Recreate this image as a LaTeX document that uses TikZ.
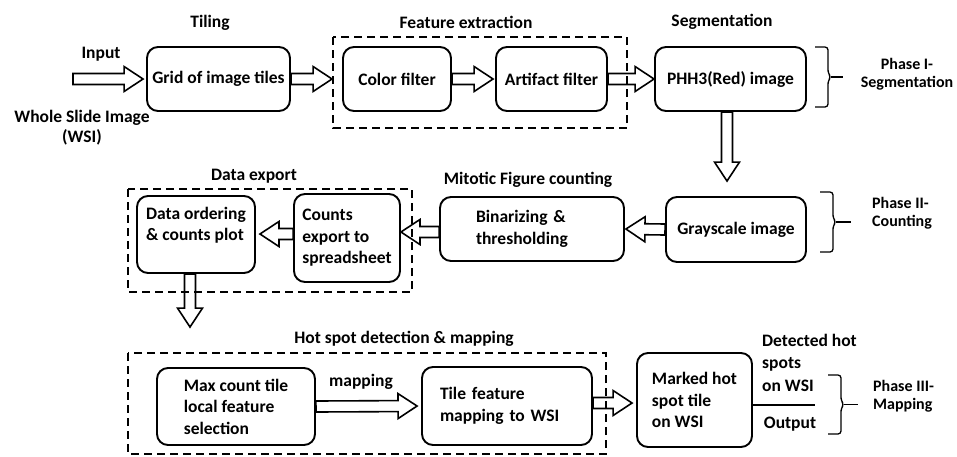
\documentclass[tikz,border=0pt]{standalone}
\usepackage{fontspec}
\setmainfont{Carlito}
\usetikzlibrary{calc}

% Hollow block arrow from #1 (tail) to #2 (tip)
\newcommand\fatarrow[2]{%
  \coordinate (faA) at (#1);
  \coordinate (faB) at (#2);
  \coordinate (faH) at ($(faB)!19pt!(faA)$);
  \draw[arrowline] ($(faA)!5.5pt!90:(faB)$) -- ($(faH)!5.5pt!90:(faB)$)
    -- ($(faH)!12.5pt!90:(faB)$) -- (faB) -- ($(faH)!12.5pt!-90:(faB)$)
    -- ($(faH)!5.5pt!-90:(faB)$) -- ($(faA)!5.5pt!-90:(faB)$) -- cycle;
}

% Right-hand curly bracket between two points, with a tick line
\newcommand\phasebrace[3]{%
  \coordinate (pbA) at (#1);
  \coordinate (pbB) at (#2);
  \coordinate (pbM) at ($(pbA)!0.5!(pbB)+(13,0)$);
  \draw[bracket] (pbA) -| ($(pbM)+(0,-4)$) -- ($(pbM)+(3,0)$) -- ($(pbM)+(0,4)$) |- (pbB);
  \draw[tick] ($(pbM)+(3,0)$) -- +(#3,0);
}

\begin{document}
\begin{tikzpicture}[x=1pt,y=-1pt,
  every node/.style={font=\fontsize{17.5}{21.5}\selectfont\bfseries, inner sep=2pt},
  box/.style={draw, line width=1.9pt, rounded corners=11pt, align=center},
  arrowline/.style={draw, fill=white, line width=1.6pt, line join=miter},
  frame/.style={draw, line width=1.6pt, dash pattern=on 8pt off 5pt},
  bracket/.style={draw, line width=1.3pt, rounded corners=3pt},
  tick/.style={draw, line width=1.3pt},
  phase/.style={font=\fontsize{16}{18}\selectfont\bfseries, align=center}]

\useasboundingbox (0,0) rectangle (957,456);

% ---- processing steps ----
\node[box, minimum width=143pt, minimum height=64pt] (grid) at (218.5,79) {Grid of image tiles};
\node[box, minimum width=108pt, minimum height=64pt] (color) at (397,79) {Color filter};
\node[box, minimum width=111pt, minimum height=64pt] (artifact) at (551.5,79) {Artifact filter};
\node[box, minimum width=151pt, minimum height=64pt] (phh) at (730.5,79) {PHH3(Red) image};

\node[box, minimum width=140pt, minimum height=65pt] (gray) at (736,229.5) {Grayscale image};
\node[box, minimum width=184pt, minimum height=64pt, text width=112pt, inner xsep=36pt, align=left] (bin) at (532,229) {Binarizing \&\\thresholding};
\node[box, minimum width=106pt, minimum height=88pt, align=left] (counts) at (347,238) {Counts\\export to\\spreadsheet};
\node[box, minimum width=118pt, minimum height=77pt, align=left] (data) at (196,234.5) {Data ordering\\\& counts plot\\\mbox{}};

\node[box, minimum width=158pt, minimum height=77pt, align=left] (max) at (236,406.5) {Max count tile\\local feature\\selection};
\node[box, minimum width=170pt, minimum height=78pt, text width=134pt, inner xsep=18pt, align=left] (tile) at (507,406) {Tile feature\\mapping to WSI};
\node[box, minimum width=115pt, minimum height=94pt, align=left] (marked) at (694.5,400) {Marked hot\\spot tile\\on WSI};

% ---- flow arrows ----
\coordinate (inStart) at (73,79);
\fatarrow{inStart}{[xshift=-3pt]grid.west}
\fatarrow{grid.east}{[xshift=-10pt]color.west}
\fatarrow{color.east}{[xshift=-2pt]artifact.west}
\fatarrow{artifact.east}{phh.west}
\fatarrow{$(phh.south)+(-3.5,0)$}{$(gray.north)+(-9,-15)$}
\fatarrow{gray.west}{$(bin.east)+(1,0)$}
\fatarrow{$(bin.west)+(0,3)$}{$(counts.east)+(0,-6)$}
\fatarrow{$(counts.west)+(0,-4)$}{$(data.east)+(4,-0.5)$}
\fatarrow{$(data.south)+(-6,0)$}{$(max.north)+(-46,-40)$}
\fatarrow{max.east}{$(tile.west)+(-4,0)$}
\fatarrow{$(tile.east)+(0,-3)$}{$(marked.west)+(-4,3)$}

% output line
\coordinate (outEnd) at (815,405);
\draw[line width=1.6pt] (marked.east |- outEnd) -- (outEnd);

% ---- stage frames ----
\draw[frame] (333,37) rectangle (627,128);
\draw[frame] (128,189) rectangle (412,292);
\draw[frame] (128,353) rectangle (606,454);

% ---- phase brackets ----
\phasebrace{815,47}{815,107}{12}
\phasebrace{820,192}{820,252}{15}
\phasebrace{828,375}{828,434}{14}

% ---- labels ----
\node (tiling) at (210,23) {Tiling};
\node (input) at (101,54) {Input};
\node[align=center, font=\fontsize{17.5}{19.5}\selectfont\bfseries] (wsi) at (82,127.5) {Whole Slide Image\\(WSI)};
\node (fext) at (466,22) {Feature extraction};
\node (seg) at (722,22) {Segmentation};
\node (dexp) at (254,176) {Data export};
\node (mfc) at (528,180) {Mitotic Figure counting};
\node (hsd) at (404,339) {Hot spot detection \& mapping};
\node (mapl) at (361,382) {mapping};
\node[anchor=west, align=left, font=\fontsize{17.5}{22.5}\selectfont\bfseries] (det) at (760,362.5) {Detected hot\\spots\\on WSI};
\node (outl) at (790,424) {Output};

\node[phase] (p1) at (907,74) {Phase I-\\Segmentation};
\node[phase, align=left, anchor=west] (p2) at (870,213) {Phase II-\\Counting};
\node[phase, align=left, anchor=west] (p3) at (871,396.5) {Phase III-\\Mapping};
\end{tikzpicture}
\end{document}
